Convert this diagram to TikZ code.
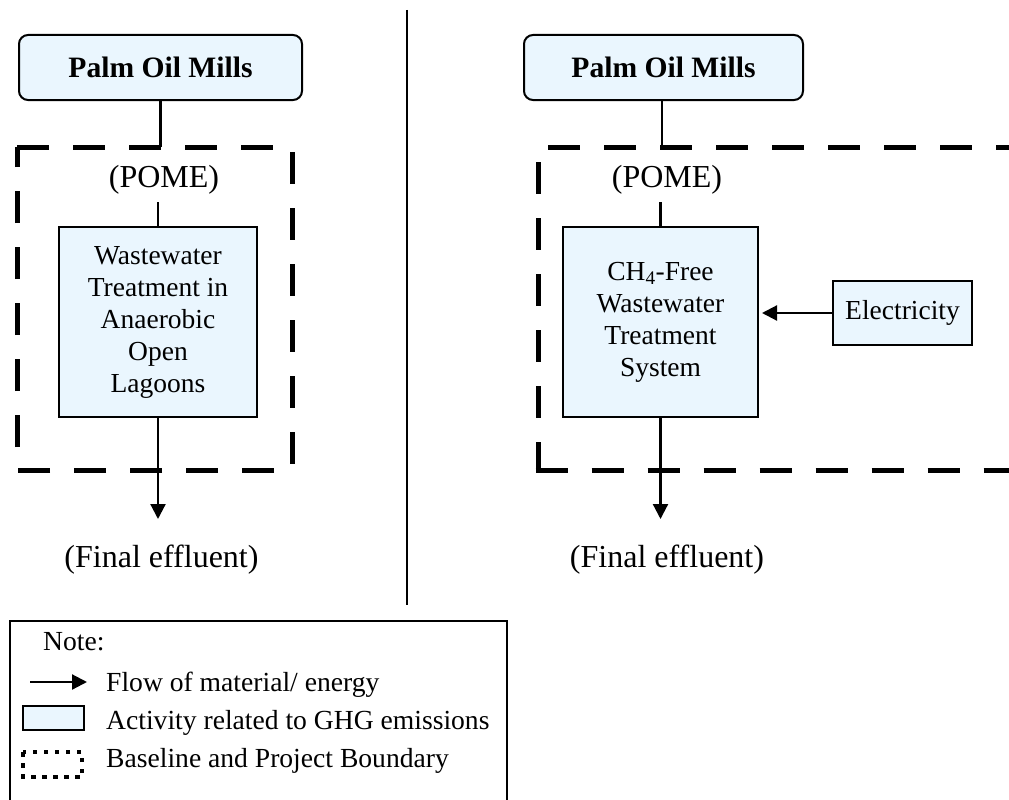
\documentclass[tikz,border=0pt]{standalone}
\usepackage{fontspec}
\setmainfont{Liberation Serif}
\usetikzlibrary{arrows.meta}
\definecolor{actfill}{RGB}{234,246,254}
\begin{document}
\begin{tikzpicture}[x=1pt,y=-1pt,
  activity/.style={draw=black, line width=2pt, fill=actfill, inner sep=0pt,
    align=center, font=\fontsize{27.5}{32}\selectfont},
  millbox/.style={activity, rounded corners=9pt,
    font=\fontsize{29.6}{34}\selectfont\bfseries},
  flow/.style={line width=2.2pt, -{Triangle[length=15pt,width=15pt]}},
  link/.style={line width=2.2pt},
  boundary/.style={line width=5pt, dash pattern=on 32pt off 24pt},
  flowlabel/.style={font=\fontsize{32}{36}\selectfont, inner sep=0pt, anchor=base},
  note/.style={font=\fontsize{27.6}{32}\selectfont, inner sep=0pt, anchor=base west}]
\useasboundingbox (0,0) rectangle (1009,800);

% ---- baseline scenario (left) ----
\node[millbox, minimum width=283pt, minimum height=65pt] (millL) at (160.5,67.5) {Palm Oil Mills};
\node[activity, minimum width=198pt, minimum height=190pt] (wwL) at (158,322)
  {Wastewater\\Treatment in\\Anaerobic\\Open\\Lagoons};
\node[flowlabel] (pomeL) at (164,187) {(POME)};
\node[flowlabel] (effL) at (161.5,567) {(Final effluent)};
\coordinate (inL) at (160.5,147);
\coordinate (outL) at (158,519);

\draw[boundary] (17,147) -- (292,147) -- (292,470) -- (17,470) -- cycle;

\draw[link] (millL.south) -- (inL);
\draw[link, shorten <=8pt] (wwL.north |- pomeL.south) -- (wwL.north);
\draw[flow] (wwL.south) -- (outL);

% ---- project scenario (right) ----
\node[millbox, minimum width=279pt, minimum height=65pt] (millR) at (663.5,67.5) {Palm Oil Mills};
\node[activity, minimum width=195pt, minimum height=190pt] (ch4) at (660.5,322)
  {CH\textsubscript{4}-Free\\Wastewater\\Treatment\\System};
\node[activity, minimum width=139pt, minimum height=64pt] (elec) at (902.5,313) {Electricity};
\node[flowlabel] (pomeR) at (667,187) {(POME)};
\node[flowlabel] (effR) at (667,567) {(Final effluent)};
\coordinate (inR) at (662,147);
\coordinate (outR) at (660.5,519);

\draw[boundary, dash phase=46pt] (538,147) -- (1030,147);
\draw[boundary, dash phase=41pt] (538,147) -- (538,470);
\draw[boundary] (535.5,470) -- (1030,470);

\draw[link] (millR.south -| inR) -- (inR);
\draw[link, shorten <=8pt] (ch4.north |- pomeR.south) -- (ch4.north);
\draw[flow] (ch4.south) -- (outR);
\draw[flow, shorten >=3pt] (elec.west) -- (ch4.east |- elec.west);

% ---- divider ----
\coordinate (divT) at (407,10);
\coordinate (divB) at (407,605);
\draw[line width=2pt] (divT) -- (divB);

% ---- key ----
\draw[line width=2pt] (10,621) rectangle (507,830);
\node[note] (keyhead) at (43,650) {Note:};
\coordinate (keyA1) at (30,682);
\coordinate (keyA2) at (87,682);
\draw[flow] (keyA1) -- (keyA2);
\node[note] (keyflow) at (106,691) {Flow of material/ energy};
\draw[line width=2pt, fill=actfill] (23,706) rectangle (84,730);
\node[note] (keyact) at (106,729) {Activity related to GHG emissions};
\draw[line width=4pt, dash pattern=on 4.5pt off 6.5pt] (23,752) rectangle (82,777);
\node[note] (keybound) at (106,767) {Baseline and Project Boundary};
\end{tikzpicture}
\end{document}
